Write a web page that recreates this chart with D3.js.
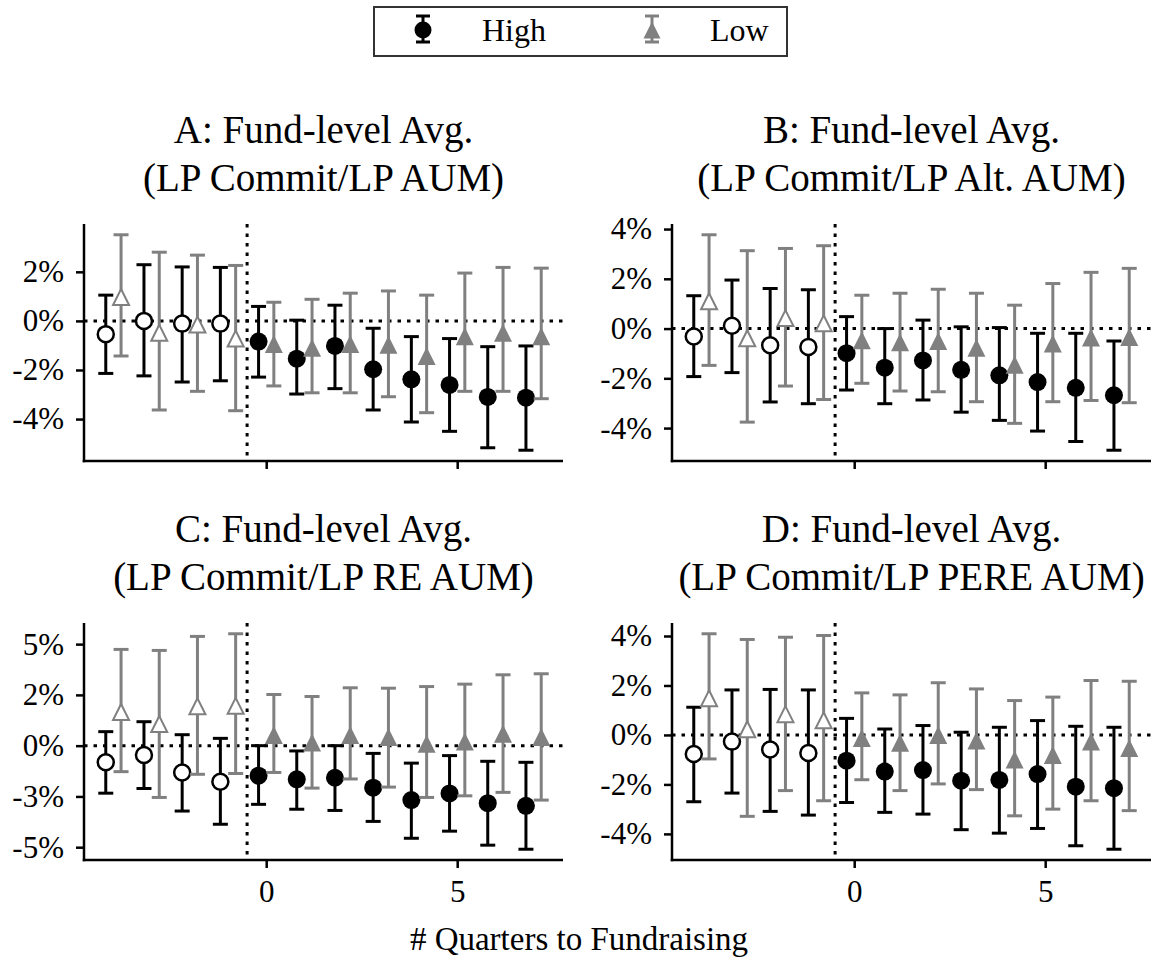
<!DOCTYPE html>
<html><head><meta charset="utf-8">
<script src="https://cdn.jsdelivr.net/npm/d3@7"></script>
<style>body{margin:0;background:#fff}text{font-family:"Liberation Serif","Times New Roman",serif;}</style>
</head><body>
<svg id="chart" width="1158" height="962"></svg>
<script>
const quarters = [-4,-3,-2,-1,0,1,2,3,4,5,6,7];
const seriesNames = ["High","Low"];
const titlesA = ["A: Fund-level Avg.","(LP Commit/LP AUM)"];
const titlesB = ["B: Fund-level Avg.","(LP Commit/LP Alt. AUM)"];
const titlesC = ["C: Fund-level Avg.","(LP Commit/LP RE AUM)"];
const titlesD = ["D: Fund-level Avg.","(LP Commit/LP PERE AUM)"];
const xLabel = "# Quarters to Fundraising";
const xTicks = [0,5];

// Panel A
const highA   = [-0.54,0.00,-0.11,-0.11,-0.84,-1.54,-1.02,-1.97,-2.38,-2.61,-3.10,-3.13];
const highALo = [-2.14,-2.24,-2.49,-2.44,-2.29,-2.98,-2.76,-3.63,-4.12,-4.50,-5.17,-5.27];
const highAHi = [1.05,2.29,2.20,2.18,0.59,0.03,0.64,-0.30,-0.64,-0.72,-1.05,-1.02];
const lowA    = [0.97,-0.48,-0.15,-0.72,-0.94,-1.09,-0.94,-0.97,-1.43,-0.63,-0.48,-0.63];
const lowALo  = [-1.43,-3.63,-2.87,-3.66,-2.65,-2.93,-2.93,-3.09,-3.74,-2.87,-2.87,-3.17];
const lowAHi  = [3.51,2.80,2.68,2.26,0.76,0.88,1.13,1.22,1.05,1.95,2.18,2.15];
const yTicksA = [-4,-2,0,2];
const yLabelsA = ["-4%","-2%","0%","2%"];

// Panel B
const highB   = [-0.32,0.11,-0.67,-0.74,-0.99,-1.57,-1.28,-1.66,-1.88,-2.15,-2.38,-2.68];
const highBLo = [-1.93,-1.77,-2.95,-3.02,-2.47,-3.02,-2.87,-3.36,-3.69,-4.12,-4.54,-4.89];
const highBHi = [1.32,1.95,1.61,1.56,0.48,0.00,0.34,0.07,0.04,-0.19,-0.19,-0.50];
const lowB    = [1.10,-0.39,0.42,0.21,-0.47,-0.55,-0.50,-0.77,-1.45,-0.60,-0.36,-0.34];
const lowBLo  = [-1.48,-3.76,-2.31,-2.85,-2.20,-2.51,-2.54,-2.94,-3.81,-2.94,-2.89,-2.98];
const lowBHi  = [3.77,3.13,3.22,3.33,1.34,1.42,1.58,1.42,0.94,1.81,2.26,2.42];
const yTicksB = [-4,-2,0,2,4];
const yLabelsB = ["-4%","-2%","0%","2%","4%"];

// Panel C
const highC   = [-0.82,-0.46,-1.32,-1.78,-1.48,-1.66,-1.58,-2.07,-2.68,-2.35,-2.83,-2.96];
const highCLo = [-2.34,-2.11,-3.22,-3.87,-2.89,-3.13,-3.19,-3.73,-4.56,-4.21,-4.90,-5.10];
const highCHi = [0.69,1.18,0.54,0.36,0.00,-0.26,0.00,-0.38,-0.86,-0.49,-0.77,-0.82];
const lowC    = [1.66,1.07,1.94,1.96,0.53,0.15,0.53,0.43,0.10,0.20,0.59,0.43];
const lowCLo  = [-1.28,-2.55,-1.41,-1.37,-1.32,-2.09,-1.64,-2.04,-2.55,-2.47,-2.30,-2.68];
const lowCHi  = [4.74,4.69,5.38,5.51,2.52,2.42,2.85,2.83,2.91,3.03,3.49,3.54];
const yTicksC = [-5,-2.5,0,2.5,5];
const yLabelsC = ["-5%","-3%","0%","2%","5%"];

// Panel D
const highD   = [-0.77,-0.27,-0.59,-0.73,-1.04,-1.48,-1.42,-1.85,-1.82,-1.58,-2.09,-2.15];
const highDLo = [-2.70,-2.35,-3.09,-3.24,-2.73,-3.13,-3.20,-3.83,-3.97,-3.78,-4.48,-4.62];
const highDHi = [1.12,1.82,1.84,1.82,0.67,0.24,0.38,0.11,0.31,0.58,0.35,0.31];
const lowD    = [1.48,0.23,0.84,0.59,-0.12,-0.32,0.00,-0.22,-0.99,-0.81,-0.27,-0.53];
const lowDLo  = [-0.97,-3.29,-2.25,-2.66,-1.81,-2.25,-1.98,-2.21,-3.27,-3.00,-2.66,-3.06];
const lowDHi  = [4.09,3.86,3.95,4.02,1.70,1.62,2.11,1.86,1.39,1.53,2.20,2.17];
const yTicksD = [-4,-2,0,2,4];
const yLabelsD = ["-4%","-2%","0%","2%","4%"];

// ---------- drawing ----------
const svg = d3.select("#chart");
const HIGH = "#000000", LOW = "#808080";
const OFFSET = 0.2;

const panels = [
  {titles:titlesA, high:[highA,highALo,highAHi], low:[lowA,lowALo,lowAHi], yt:yTicksA, yl:yLabelsA, box:[84,563,224,461], xlab:false},
  {titles:titlesB, high:[highB,highBLo,highBHi], low:[lowB,lowBLo,lowBHi], yt:yTicksB, yl:yLabelsB, box:[672,1151,224,461], xlab:false},
  {titles:titlesC, high:[highC,highCLo,highCHi], low:[lowC,lowCLo,lowCHi], yt:yTicksC, yl:yLabelsC, box:[84,563,623,860], xlab:true},
  {titles:titlesD, high:[highD,highDLo,highDHi], low:[lowD,lowDLo,lowDHi], yt:yTicksD, yl:yLabelsD, box:[672,1151,623,860], xlab:true}
];

function tri(ms){ const h=ms/2; return `M0,${-h}L${-h},${h}L${h},${h}Z`; }

panels.forEach(p => {
  const [x0,x1,y0,y1] = p.box;
  const xs = quarters.map(q=>q-OFFSET).concat(quarters.map(q=>q+OFFSET));
  const xmin = d3.min(xs), xmax = d3.max(xs), xpad = (xmax-xmin)*0.05;
  const x = d3.scaleLinear().domain([xmin-xpad, xmax+xpad]).range([x0,x1]);
  const ys = p.high[1].concat(p.high[2], p.low[1], p.low[2]);
  const ymin = d3.min(ys), ymax = d3.max(ys), ypad = (ymax-ymin)*0.05;
  const y = d3.scaleLinear().domain([ymin-ypad, ymax+ypad]).range([y1,y0]);
  const g = svg.append("g");

  // titles
  const cx = (x0+x1)/2;
  g.append("text").attr("x",cx).attr("y",y0-81).attr("text-anchor","middle").attr("font-size",39).text(p.titles[0]);
  g.append("text").attr("x",cx).attr("y",y0-33).attr("text-anchor","middle").attr("font-size",39).text(p.titles[1]);

  // reference dotted lines
  g.append("line").attr("x1",x0).attr("x2",x1).attr("y1",y(0)).attr("y2",y(0))
    .attr("stroke","#000").attr("stroke-width",3).attr("stroke-dasharray","3.5,6");
  g.append("line").attr("x1",x(-0.5)).attr("x2",x(-0.5)).attr("y1",y0).attr("y2",y1)
    .attr("stroke","#000").attr("stroke-width",3).attr("stroke-dasharray","3.5,6");

  // axes
  const ya = d3.axisLeft(y).tickValues(p.yt).tickFormat((d,i)=>p.yl[i]).tickSize(8).tickPadding(12);
  const yg = g.append("g").attr("transform",`translate(${x0},0)`).call(ya);
  const xa = d3.axisBottom(x).tickValues(xTicks).tickFormat(p.xlab ? d3.format("d") : ()=>"").tickSize(8).tickPadding(12);
  const xg = g.append("g").attr("transform",`translate(0,${y1})`).call(xa);
  [yg,xg].forEach(a=>{
    a.select(".domain").remove();
    a.selectAll(".tick line").attr("stroke","#000").attr("stroke-width",2.5);
    a.selectAll(".tick text").attr("font-size",31).attr("fill","#000").attr("font-family","Liberation Serif");
  });
  g.append("line").attr("x1",x0).attr("x2",x0).attr("y1",y0).attr("y2",y1+1.25).attr("stroke","#000").attr("stroke-width",2.5);
  g.append("line").attr("x1",x0-1.25).attr("x2",x1).attr("y1",y1).attr("y2",y1).attr("stroke","#000").attr("stroke-width",2.5);

  // series
  [[p.high,HIGH,-OFFSET,"circle"],[p.low,LOW,OFFSET,"triangle"]].forEach(([s,col,off,shape])=>{
    const data = quarters.map((q,i)=>({q, v:s[0][i], lo:s[1][i], hi:s[2][i]}));
    const sg = g.append("g");
    const eb = sg.selectAll("g.eb").data(data).join("g").attr("class","eb");
    eb.append("line").attr("x1",d=>x(d.q+off)).attr("x2",d=>x(d.q+off)).attr("y1",d=>y(d.lo)).attr("y2",d=>y(d.hi))
      .attr("stroke",col).attr("stroke-width",3);
    ["lo","hi"].forEach(k=>{
      eb.append("line").attr("x1",d=>x(d.q+off)-7.5).attr("x2",d=>x(d.q+off)+7.5).attr("y1",d=>y(d[k])).attr("y2",d=>y(d[k]))
        .attr("stroke",col).attr("stroke-width",3);
    });
    if(shape==="circle"){
      eb.append("circle").attr("cx",d=>x(d.q+off)).attr("cy",d=>y(d.v)).attr("r",d=>d.q<0?8:9)
        .attr("fill",d=>d.q<0?"#fff":col).attr("stroke",col).attr("stroke-width",d=>d.q<0?2.5:0);
    } else {
      eb.append("path").attr("transform",d=>`translate(${x(d.q+off)},${y(d.v)})`).attr("d",d=>tri(d.q<0?16:18))
        .attr("fill",d=>d.q<0?"#fff":col).attr("stroke",col).attr("stroke-width",d=>d.q<0?2:0).attr("stroke-linejoin","miter");
    }
  });
});

// x-axis label
svg.append("text").attr("x",579).attr("y",950).attr("text-anchor","middle").attr("font-size",33).text(xLabel);

// legend
const lg = svg.append("g");
lg.append("rect").attr("x",374).attr("y",7).attr("width",413).attr("height",49).attr("fill","#fff").attr("stroke","#333").attr("stroke-width",2);
function legendMarker(cx, col, shape){
  lg.append("line").attr("x1",cx).attr("x2",cx).attr("y1",16).attr("y2",42).attr("stroke",col).attr("stroke-width",3);
  [16,42].forEach(yy=>lg.append("line").attr("x1",cx-7).attr("x2",cx+7).attr("y1",yy).attr("y2",yy).attr("stroke",col).attr("stroke-width",3));
  if(shape==="circle") lg.append("circle").attr("cx",cx).attr("cy",30).attr("r",8.5).attr("fill",col);
  else lg.append("path").attr("transform",`translate(${cx},30)`).attr("d",tri(17)).attr("fill",col);
}
legendMarker(423, HIGH, "circle");
legendMarker(652, LOW, "triangle");
lg.append("text").attr("x",482).attr("y",41).attr("font-size",32).text(seriesNames[0]);
lg.append("text").attr("x",710).attr("y",41).attr("font-size",32).text(seriesNames[1]);
</script>
</body></html>
